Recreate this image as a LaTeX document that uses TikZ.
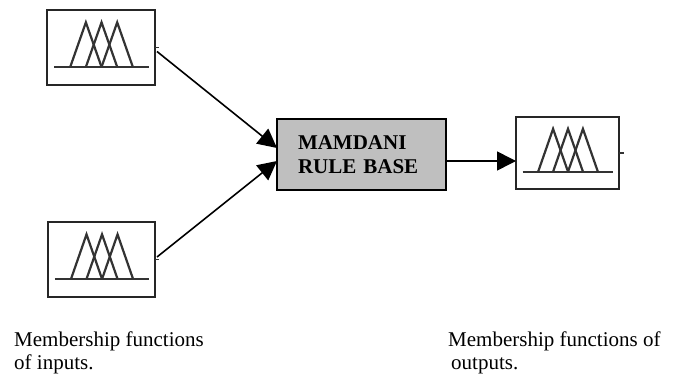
\documentclass[tikz,border=0pt]{standalone}
\usepackage{fontspec}
\setmainfont{Liberation Serif}
\usetikzlibrary{arrows.meta,calc}
\tikzset{
  mfbox/.style={draw=black!85, line width=2.2pt, fill=white, inner sep=0pt, outer sep=0pt},
  rulebox/.style={draw=black, line width=1.8pt, fill=black!25, inner sep=0pt, inner xsep=21pt,
    outer sep=0pt, minimum width=169pt, minimum height=71pt, text width=127pt, align=left,
    font=\fontsize{21}{24}\selectfont\bfseries},
  arr/.style={line width=1.6pt, -{Triangle[length=19pt,width=19pt]}},
  stub/.style={line width=1.4pt, draw=black!80},
  mfline/.style={line width=2.2pt, draw=black!80},
  caption/.style={inner sep=0pt, anchor=base west, font=\fontsize{21}{23}\selectfont}
}
\newcommand\mfplot[3]{%
  \begin{scope}[shift={(#1.north west)}, x=#2pt, y=-#3pt]
    \draw[mfline] (0.065,0.76) -- (0.944,0.76);
    \draw[mfline] (0.215,0.76) -- (0.36,0.165) -- (0.505,0.76);
    \draw[mfline] (0.36,0.76) -- (0.505,0.165) -- (0.65,0.76);
    \draw[mfline] (0.505,0.76) -- (0.65,0.165) -- (0.795,0.76);
  \end{scope}}
\begin{document}
\begin{tikzpicture}[x=1pt,y=-1pt]
\useasboundingbox (0,0) rectangle (681,377);
% membership function boxes
\node[mfbox, minimum width=108pt, minimum height=75pt] (in1) at (101,47.5) {};
\node[mfbox, minimum width=107pt, minimum height=75pt] (in2) at (101.5,259.5) {};
\node[mfbox, minimum width=103pt, minimum height=72pt] (out) at (567.5,153) {};
\mfplot{in1}{108}{75}
\mfplot{in2}{107}{75}
\mfplot{out}{103}{72}
\draw[stub] (in1.east) -- ++(4,0);
\draw[stub] (in2.east) -- ++(4,0);
\draw[stub] (out.east) -- ++(5,0);
% rule base
\node[rulebox] (mam) at (361.5,154.5) {MAMDANI\\RULE BASE};
% connectors
\draw[arr] ([shift={(2pt,-4pt)}]in1.east) -- ([yshift=6.5pt]mam.west);
\draw[arr] ([shift={(2pt,2.5pt)}]in2.east) -- ([yshift=-6.5pt]mam.west);
\draw[arr] ([yshift=-6.5pt]mam.east) -- ([yshift=-6.5pt]mam.east -| out.west);
% captions
\node[caption] (cin1) at (14,346.5) {Membership functions};
\node[caption] (cin2) at (14,369) {of inputs.};
\node[caption] (cout1) at (448,346.5) {Membership functions of};
\node[caption] (cout2) at (451,369) {outputs.};
\end{tikzpicture}
\end{document}
